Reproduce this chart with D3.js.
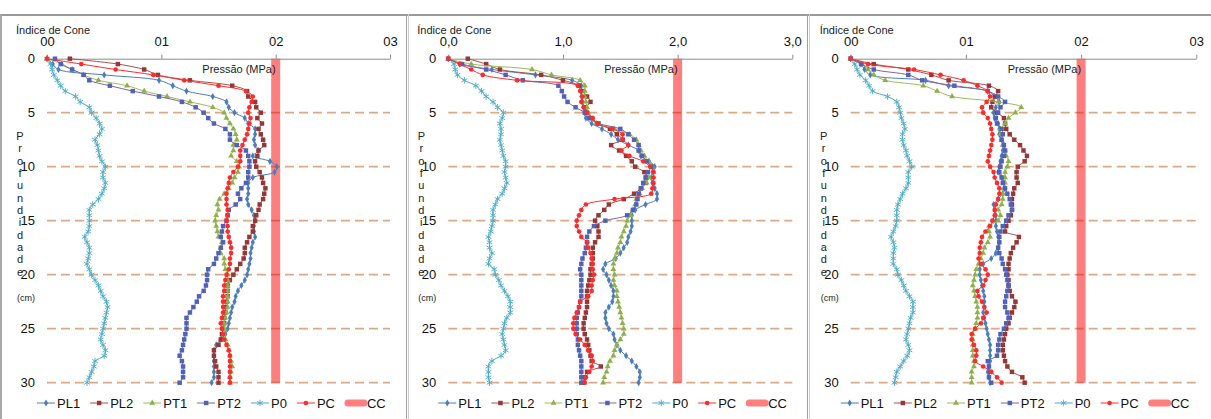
<!DOCTYPE html>
<html>
<head>
<meta charset="utf-8">
<script src="https://cdn.jsdelivr.net/npm/d3@7"></script>
<style>
  body { margin:0; background:#fff; }
  svg { display:block; font-family:'Liberation Sans', Arial, sans-serif; }
</style>
</head>
<body>
<div id="chart"></div>
<script>
// Perfis de índice de cone (3 painéis) - D3

// profundidade (cm), passo de 0,5 cm
const depths = [0,0.5,1,1.5,2,2.5,3,3.5,4,4.5,5,5.5,6,6.5,7,7.5,8,8.5,9,9.5,
  10,10.5,11,11.5,12,12.5,13,13.5,14,14.5,15,15.5,16,16.5,17,17.5,18,18.5,19,19.5,
  20,20.5,21,21.5,22,22.5,23,23.5,24,24.5,25,25.5,26,26.5,27,27.5,28,28.5,29,29.5,30];

const pressTicks = [0,1,2,3];
const tickLabelsA = ['00','01','02','03'];
const tickLabelsB = ['0,0','1,0','2,0','3,0'];
const depthTicks = [0,5,10,15,20,25,30];
const seriesNames = ['PL1','PL2','PT1','PT2','P0','PC'];
const ccValue = 2.0;

// ---- Painel 1 ----
const PL1_1 = [0.00,0.05,0.10,0.50,0.98,1.10,1.22,1.45,1.57,1.59,
  1.64,1.73,1.76,1.82,1.82,1.81,1.82,1.85,1.80,1.95,
  2.01,1.99,1.80,1.76,1.76,1.76,1.75,1.76,1.79,1.81,
  1.82,1.81,1.81,1.82,1.80,1.79,1.78,1.78,1.77,1.76,
  1.75,1.73,1.70,1.67,1.65,1.64,1.62,1.61,1.60,1.59,
  1.58,1.56,1.52,1.48,1.46,1.46,1.46,1.46,1.46,1.46,1.44];
const PL2_1 = [0.20,0.62,0.85,0.97,1.25,1.62,1.75,1.76,1.82,1.83,
  1.87,1.84,1.88,1.85,1.87,1.89,1.90,1.85,1.84,1.82,
  1.83,1.86,1.88,1.89,1.91,1.90,1.89,1.86,1.85,1.83,
  1.82,1.80,1.80,1.77,1.75,1.73,1.73,1.72,1.69,1.66,
  1.63,1.60,1.58,1.58,1.58,1.57,1.56,1.56,1.55,1.55,
  1.54,1.53,1.52,1.50,1.46,1.46,1.47,1.48,1.50,1.50,1.50];
const PT1_1 = [0.00,0.13,0.22,0.32,0.45,0.70,0.85,1.05,1.25,1.45,
  1.55,1.57,1.60,1.63,1.65,1.66,1.63,1.63,1.61,1.66,
  1.68,1.67,1.64,1.62,1.59,1.55,1.51,1.49,1.50,1.48,
  1.47,1.48,1.49,1.50,1.53,1.52,1.52,1.55,1.55,1.56,
  1.58,1.58,1.58,1.58,1.58,1.58,1.58,1.57,1.56,1.55,
  1.55,1.55,1.56,1.58,1.59,1.60,1.61,1.62,1.61,1.60,1.60];
const PT2_1 = [0.07,0.12,0.22,0.32,0.37,0.55,0.75,0.98,1.18,1.30,
  1.37,1.41,1.46,1.56,1.60,1.60,1.66,1.74,1.76,1.77,
  1.77,1.76,1.76,1.74,1.70,1.67,1.69,1.65,1.59,1.58,
  1.57,1.54,1.53,1.52,1.54,1.52,1.50,1.48,1.46,1.41,
  1.40,1.40,1.39,1.37,1.33,1.31,1.28,1.25,1.22,1.22,
  1.22,1.21,1.20,1.19,1.18,1.16,1.18,1.19,1.19,1.19,1.16];
const P0_1 = [0.00,0.03,0.045,0.06,0.09,0.12,0.16,0.25,0.29,0.37,
  0.39,0.43,0.46,0.48,0.46,0.42,0.44,0.45,0.46,0.48,
  0.51,0.49,0.49,0.51,0.50,0.48,0.45,0.40,0.37,0.37,
  0.37,0.37,0.36,0.33,0.35,0.37,0.37,0.36,0.35,0.37,
  0.39,0.42,0.45,0.47,0.49,0.52,0.53,0.52,0.51,0.50,
  0.49,0.48,0.47,0.49,0.51,0.50,0.42,0.41,0.39,0.37,0.35];
const PC_1 = [0.00,0.30,0.60,0.93,1.20,1.50,1.74,1.80,1.79,1.77,
  1.76,1.78,1.77,1.76,1.75,1.73,1.71,1.69,1.69,1.69,
  1.67,1.63,1.60,1.59,1.58,1.57,1.57,1.57,1.58,1.58,
  1.57,1.58,1.58,1.59,1.60,1.61,1.61,1.60,1.60,1.59,
  1.57,1.56,1.55,1.55,1.54,1.54,1.54,1.54,1.53,1.52,
  1.53,1.54,1.55,1.57,1.59,1.60,1.60,1.60,1.60,1.60,1.60];

// ---- Painel 2 ----
const PL1_2 = [0.00,0.10,0.38,0.76,1.08,1.16,1.16,1.16,1.17,1.18,
  1.19,1.20,1.25,1.34,1.42,1.48,1.57,1.66,1.68,1.75,
  1.80,1.78,1.77,1.78,1.80,1.82,1.82,1.72,1.63,1.60,
  1.60,1.60,1.59,1.57,1.56,1.53,1.50,1.46,1.37,1.35,
  1.38,1.40,1.42,1.44,1.44,1.43,1.40,1.37,1.37,1.38,
  1.40,1.44,1.45,1.47,1.50,1.55,1.60,1.64,1.67,1.67,1.66];
const PL2_2 = [0.17,0.33,0.45,0.81,1.00,1.14,1.17,1.21,1.24,1.20,
  1.21,1.25,1.30,1.41,1.47,1.52,1.42,1.49,1.55,1.60,
  1.63,1.71,1.73,1.72,1.68,1.62,1.53,1.40,1.36,1.31,
  1.28,1.30,1.31,1.31,1.28,1.26,1.26,1.26,1.25,1.24,
  1.24,1.23,1.22,1.21,1.21,1.21,1.21,1.20,1.19,1.18,
  1.18,1.19,1.21,1.22,1.23,1.24,1.25,1.33,1.21,1.19,1.18];
const PT1_2 = [0.00,0.20,0.73,0.90,1.15,1.19,1.19,1.19,1.20,1.21,
  1.22,1.24,1.29,1.45,1.58,1.64,1.66,1.68,1.71,1.75,
  1.78,1.79,1.75,1.73,1.69,1.67,1.64,1.63,1.61,1.59,
  1.56,1.55,1.53,1.51,1.50,1.48,1.47,1.45,1.44,1.44,
  1.45,1.44,1.45,1.47,1.47,1.48,1.49,1.50,1.51,1.52,
  1.53,1.53,1.50,1.47,1.45,1.44,1.41,1.39,1.38,1.36,1.35];
const PT2_2 = [0.00,0.12,0.33,0.50,0.65,0.96,0.99,1.01,1.04,1.11,
  1.19,1.23,1.31,1.50,1.57,1.62,1.66,1.66,1.69,1.73,
  1.77,1.74,1.72,1.70,1.68,1.66,1.65,1.64,1.61,1.56,
  1.37,1.27,1.23,1.21,1.21,1.20,1.19,1.17,1.16,1.15,
  1.16,1.16,1.16,1.16,1.16,1.15,1.14,1.13,1.12,1.12,
  1.12,1.12,1.13,1.13,1.14,1.15,1.16,1.16,1.16,1.16,1.16];
const P0_2 = [0.00,0.05,0.06,0.08,0.14,0.24,0.29,0.33,0.39,0.43,
  0.48,0.47,0.45,0.46,0.46,0.45,0.46,0.47,0.48,0.50,
  0.50,0.49,0.50,0.51,0.49,0.47,0.43,0.41,0.39,0.39,
  0.39,0.38,0.37,0.35,0.36,0.36,0.38,0.36,0.35,0.40,
  0.41,0.44,0.46,0.49,0.52,0.54,0.54,0.54,0.51,0.49,
  0.48,0.47,0.48,0.49,0.50,0.46,0.38,0.35,0.35,0.35,0.36];
const PC_2 = [0.00,0.10,0.20,0.30,0.60,1.13,1.15,1.17,1.16,1.18,
  1.21,1.26,1.30,1.43,1.52,1.52,1.57,1.51,1.58,1.70,
  1.76,1.79,1.79,1.79,1.78,1.77,1.45,1.20,1.16,1.14,
  1.12,1.12,1.14,1.16,1.21,1.22,1.24,1.25,1.26,1.26,
  1.27,1.26,1.25,1.25,1.22,1.15,1.14,1.12,1.10,1.09,
  1.09,1.11,1.15,1.19,1.22,1.25,1.26,1.25,1.23,1.20,1.19];

// ---- Painel 3 ----
const PL1_3 = [0.00,0.09,0.12,0.17,0.65,0.85,1.19,1.25,1.29,1.26,
  1.24,1.25,1.28,1.29,1.29,1.31,1.33,1.32,1.31,1.30,
  1.29,1.28,1.31,1.33,1.34,1.32,1.28,1.24,1.25,1.26,
  1.26,1.26,1.27,1.28,1.29,1.28,1.26,1.22,1.15,1.12,
  1.12,1.13,1.14,1.15,1.16,1.16,1.16,1.15,1.16,1.17,
  1.18,1.19,1.20,1.21,1.21,1.21,1.21,1.20,1.19,1.20,1.21];
const PL2_3 = [0.00,0.20,0.50,0.70,0.85,1.20,1.28,1.25,1.23,1.22,
  1.27,1.33,1.34,1.35,1.38,1.42,1.47,1.50,1.53,1.51,
  1.45,1.44,1.44,1.45,1.42,1.41,1.40,1.40,1.40,1.39,
  1.37,1.35,1.34,1.46,1.44,1.41,1.39,1.38,1.37,1.37,
  1.36,1.37,1.37,1.38,1.40,1.43,1.42,1.40,1.38,1.37,
  1.35,1.34,1.33,1.32,1.32,1.33,1.34,1.36,1.40,1.49,1.51];
const PT1_3 = [0.00,0.10,0.15,0.20,0.30,0.63,0.75,0.88,1.28,1.48,
  1.43,1.37,1.34,1.30,1.30,1.31,1.32,1.34,1.35,1.37,
  1.36,1.34,1.34,1.34,1.33,1.32,1.32,1.31,1.28,1.30,
  1.28,1.20,1.20,1.21,1.19,1.16,1.15,1.13,1.11,1.09,
  1.08,1.07,1.06,1.07,1.08,1.09,1.10,1.10,1.10,1.09,
  1.08,1.06,1.06,1.06,1.06,1.06,1.07,1.07,1.05,1.05,1.05];
const PT2_3 = [0.00,0.09,0.20,0.50,0.62,0.90,1.19,1.28,1.34,1.30,
  1.28,1.26,1.27,1.31,1.32,1.31,1.33,1.34,1.33,1.31,
  1.30,1.29,1.31,1.32,1.34,1.36,1.38,1.39,1.40,1.37,
  1.35,1.32,1.30,1.29,1.29,1.28,1.29,1.31,1.32,1.34,
  1.35,1.36,1.37,1.36,1.35,1.34,1.34,1.36,1.37,1.35,
  1.33,1.30,1.29,1.28,1.28,1.27,1.19,1.20,1.21,1.20,1.22];
const P0_3 = [0.00,0.035,0.055,0.08,0.13,0.16,0.19,0.32,0.40,0.42,
  0.43,0.44,0.46,0.47,0.45,0.45,0.46,0.48,0.49,0.51,
  0.53,0.50,0.50,0.50,0.48,0.45,0.43,0.41,0.40,0.40,
  0.40,0.39,0.37,0.35,0.37,0.38,0.37,0.37,0.37,0.40,
  0.41,0.44,0.46,0.48,0.51,0.54,0.54,0.54,0.52,0.51,
  0.50,0.49,0.48,0.50,0.51,0.49,0.46,0.43,0.40,0.39,0.38];
const PC_3 = [0.00,0.15,0.55,0.78,0.98,1.10,1.19,1.21,1.18,1.14,
  1.15,1.19,1.21,1.22,1.23,1.23,1.22,1.21,1.20,1.19,
  1.21,1.24,1.25,1.27,1.29,1.29,1.28,1.26,1.25,1.25,
  1.23,1.21,1.17,1.14,1.13,1.12,1.12,1.11,1.13,1.17,
  1.19,1.17,1.15,1.10,1.11,1.14,1.16,1.18,1.15,1.13,
  1.08,1.05,1.05,1.07,1.09,1.09,1.08,1.15,1.22,1.27,1.31];

const panelData = [
  {ticks: tickLabelsA, series: [PL1_1, PL2_1, PT1_1, PT2_1, P0_1, PC_1]},
  {ticks: tickLabelsB, series: [PL1_2, PL2_2, PT1_2, PT2_2, P0_2, PC_2]},
  {ticks: tickLabelsA, series: [PL1_3, PL2_3, PT1_3, PT2_3, P0_3, PC_3]}
];

// posições dos painéis (px)
const panelLayout = [
  {x0: 47,    x3: 390},
  {x0: 448.3, x3: 792.3},
  {x0: 850.7, x3: 1196.3}
];

// estilos das séries
const styles = {
  PL1: {line:'#4A7EBB', mark:'#4A7EBB', symbol:d3.symbolDiamond, size:15, stroke:false},
  PL2: {line:'#A9504D', mark:'#953735', symbol:d3.symbolSquare,  size:20, stroke:false},
  PT1: {line:'#9BBB59', mark:'#8DB04A', symbol:d3.symbolTriangle,size:15, stroke:false},
  PT2: {line:'#8064A2', mark:'#4F62B8', symbol:d3.symbolSquare,  size:20, stroke:false},
  P0:  {line:'#4BACC6', mark:'#4BACC6', symbol:(d3.symbolAsterisk || d3.symbolCross), size:30, stroke:true},
  PC:  {line:'#FF2A2A', mark:'#FF2A2A', symbol:d3.symbolCircle,  size:17, stroke:false}
};

const W = 1211, H = 419;
const svg = d3.select('#chart').append('svg').attr('width', W).attr('height', H);

// molduras
svg.append('rect').attr('x',0).attr('y',14).attr('width',W).attr('height',2).attr('fill','#9a9a9a');
[[0,2,'#a8a8a8'],[406,1,'#a0a0a0'],[408,1,'#cfcfcf'],[807,1,'#a0a0a0'],[809,1,'#cfcfcf']].forEach(v=>{
  svg.append('rect').attr('x',v[0]).attr('y',14).attr('width',v[1]).attr('height',H-14).attr('fill',v[2]);
});

const y = d3.scaleLinear().domain([0,30]).range([58.7, 382.7]);

panelData.forEach((pd, pi)=>{
  const L = panelLayout[pi];
  const x = d3.scaleLinear().domain([0,3]).range([L.x0, L.x3]);
  const g = svg.append('g');

  // linhas de grade tracejadas
  g.selectAll('line.grid').data(depthTicks.filter(d=>d>0)).enter().append('line')
    .attr('x1', x(0)).attr('x2', x(3))
    .attr('y1', d=>y(d)).attr('y2', d=>y(d))
    .attr('stroke','#D9AA88').attr('stroke-width',1.7).attr('stroke-dasharray','9,5');

  // CC (barra vertical)
  g.append('rect')
    .attr('x', x(ccValue)-4.5).attr('width', 9)
    .attr('y', y(0)).attr('height', y(30)-y(0))
    .attr('fill','#ff0000').attr('opacity',0.5);

  // eixo superior
  const ax = g.append('g').attr('transform',`translate(0,${y(0)})`)
    .call(d3.axisTop(x).tickValues(pressTicks).tickFormat((d,i)=>pd.ticks[i]).tickSize(4).tickSizeOuter(0).tickPadding(9));
  ax.select('.domain').attr('stroke','#8a8a8a');
  ax.selectAll('line').attr('stroke','#8a8a8a');
  ax.selectAll('text').attr('font-size',13).attr('fill','#111').attr('font-family',null);

  // eixo de profundidade (só rótulos)
  const ay = g.append('g').attr('transform',`translate(${L.x0-12},0)`)
    .call(d3.axisLeft(y).tickValues(depthTicks).tickSize(0).tickPadding(0));
  ay.select('.domain').remove();
  ay.selectAll('text').attr('font-size',13).attr('fill','#111').attr('font-family',null);

  // títulos
  g.append('text').attr('x', L.x0-31).attr('y', 34).attr('font-size',11).attr('fill','#222').text('Índice de Cone');
  g.append('text').attr('x', x(2)).attr('y', 73).attr('text-anchor','end')
    .attr('font-size',11).attr('fill','#222').text('Pressão (MPa)');
  'Profundidade'.split('').forEach((c,i)=>{
    g.append('text').attr('x', L.x0-27).attr('y', 136 + i*12.36).attr('dy','0.35em')
      .attr('text-anchor','middle').attr('font-size',11).attr('fill','#222').text(c);
  });
  g.append('text').attr('x', L.x0-21).attr('y', 298).attr('dy','0.35em')
    .attr('text-anchor','middle').attr('font-size',9).attr('fill','#222').text('(cm)');

  // séries
  const line = d3.line().x(d=>x(d.v)).y(d=>y(d.d)).curve(d3.curveCatmullRom.alpha(0.5));
  seriesNames.forEach((name, si)=>{
    const st = styles[name];
    const pts = depths.map((d,k)=>({d:d, v:pd.series[si][k]}));
    g.append('path').datum(pts).attr('d', line)
      .attr('fill','none').attr('stroke', st.line).attr('stroke-width',1);
    const sym = d3.symbol().type(st.symbol).size(st.size);
    g.selectAll('path.m'+name).data(pts).enter().append('path')
      .attr('class','m'+name)
      .attr('transform', d=>`translate(${x(d.v)},${y(d.d)})`)
      .attr('d', sym)
      .attr('fill', st.stroke ? 'none' : st.mark)
      .attr('stroke', st.stroke ? st.mark : 'none')
      .attr('stroke-width', 0.9);
  });

  // legenda
  const ly = 403;
  let lx = L.x0 - 10;
  const lg = g.append('g');
  seriesNames.forEach(name=>{
    const st = styles[name];
    lg.append('line').attr('x1',lx).attr('x2',lx+18).attr('y1',ly).attr('y2',ly)
      .attr('stroke',st.line).attr('stroke-width',1);
    lg.append('path').attr('transform',`translate(${lx+9},${ly})`)
      .attr('d', d3.symbol().type(st.symbol).size(st.size))
      .attr('fill', st.stroke ? 'none' : st.mark)
      .attr('stroke', st.stroke ? st.mark : 'none').attr('stroke-width',0.9);
    const t = lg.append('text').attr('x',lx+20).attr('y',ly).attr('dy','0.36em')
      .attr('font-size',13).attr('fill','#111').text(name);
    lx += 20 + t.node().getComputedTextLength() + 10;
  });
  lg.append('line').attr('x1',lx+3).attr('x2',lx+19).attr('y1',ly).attr('y2',ly)
    .attr('stroke','#ff0000').attr('stroke-opacity',0.5).attr('stroke-width',7).attr('stroke-linecap','round');
  lg.append('text').attr('x',lx+22).attr('y',ly).attr('dy','0.36em')
    .attr('font-size',13).attr('fill','#111').text('CC');
});
</script>
</body>
</html>
